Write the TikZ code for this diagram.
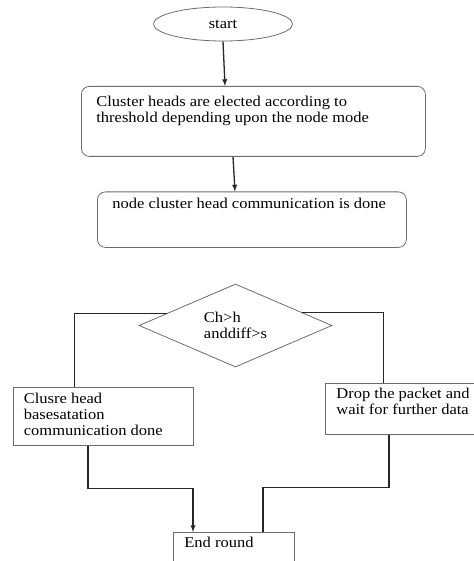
\documentclass[tikz,border=0pt]{standalone}
\usepackage{fontspec}
\setmainfont[FakeStretch=1.1]{Liberation Serif}
\usetikzlibrary{shapes.geometric}
\usetikzlibrary{arrows}
\newcommand{\toptext}[4]{\parbox[t][#1][t]{#2}{\rule{0pt}{#3}#4}}

\begin{document}
\begin{tikzpicture}[x=1pt,y=-1pt,>=latex,
	every node/.style={font=\fontsize{15}{16}\selectfont},
	box/.style={draw=gray!85!black,line width=0.8pt,anchor=north west,inner ysep=0pt},
	rbox/.style={box,rounded corners=8pt},
	link/.style={draw=black!85,line width=1.3pt}]
	\useasboundingbox (0,0) rectangle (473,561);
	\node [ellipse,draw=gray!85!black,line width=0.8pt,minimum width=139pt,minimum height=34pt,inner sep=0pt] (start) at (223,24) {start};
	\node [rbox,inner xsep=15pt] (elect) at (81,86) {\toptext{70pt}{314pt}{20pt}{Cluster heads are elected according to\\threshold depending upon the node mode}};
	\node [rbox,inner xsep=15pt] (comm) at (97,191.5) {\toptext{55.5pt}{279pt}{17pt}{node cluster head communication is done}};
	\node [diamond,aspect=2.3,draw=gray!85!black,line width=0.8pt,minimum width=193pt,minimum height=83pt,inner sep=0pt,align=left] (dec) at (235.5,325.5) {Ch>h\\anddiff>s};
	\node [box,inner xsep=10.5pt] (clusbs) at (13,387) {\toptext{58pt}{159pt}{16pt}{Clusre head\\basesatation\\communication done}};
	\node [box,inner xsep=11pt] (drop) at (325,383) {\toptext{51pt}{140pt}{15pt}{Drop the packet and\\wait for further data}};
	\node [box,inner xsep=11pt] (endr) at (173,532) {\toptext{48pt}{99pt}{15pt}{End round}};

	\draw [link,->] (start.south) -- ([xshift=144pt]elect.north west);
	\draw [link,->] ([xshift=152pt]elect.south west) -- ([xshift=138pt]comm.north west);
	\draw [link,line width=1pt] (dec.170.5) -| ([xshift=61pt]clusbs.north west);
	\draw [link,line width=1pt] (dec.11.5) -| ([xshift=58pt]drop.north west);
	\draw [link,->] ([xshift=75pt]clusbs.south west) -- ++(0,43) -| ([xshift=20pt]endr.north west);
	\draw [link] ([xshift=64pt]drop.south west) -- ++(0,53) -| ([xshift=90pt]endr.north west);
\end{tikzpicture}
\end{document}
